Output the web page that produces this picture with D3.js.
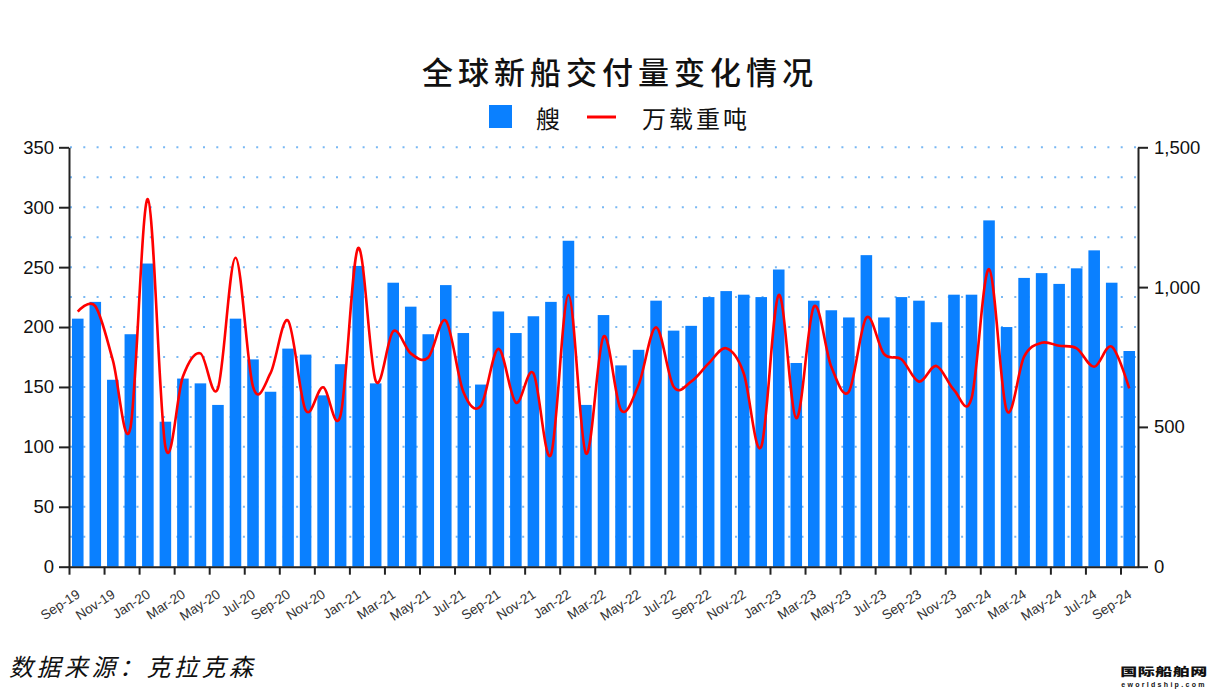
<!DOCTYPE html>
<html>
<head>
<meta charset="utf-8">
<script src="https://cdn.jsdelivr.net/npm/d3@7"></script>
<style>
  html, body { margin: 0; padding: 0; background: #fff; }
  svg { display: block; }
</style>
</head>
<body>
<svg id="chart" width="1212" height="690"></svg>
<script>
// ---------- data ----------
const months = ["Sep-19","Oct-19","Nov-19","Dec-19","Jan-20","Feb-20","Mar-20","Apr-20","May-20","Jun-20","Jul-20","Aug-20",
  "Sep-20","Oct-20","Nov-20","Dec-20","Jan-21","Feb-21","Mar-21","Apr-21","May-21","Jun-21","Jul-21","Aug-21",
  "Sep-21","Oct-21","Nov-21","Dec-21","Jan-22","Feb-22","Mar-22","Apr-22","May-22","Jun-22","Jul-22","Aug-22",
  "Sep-22","Oct-22","Nov-22","Dec-22","Jan-23","Feb-23","Mar-23","Apr-23","May-23","Jun-23","Jul-23","Aug-23",
  "Sep-23","Oct-23","Nov-23","Dec-23","Jan-24","Feb-24","Mar-24","Apr-24","May-24","Jun-24","Jul-24","Aug-24","Sep-24"];
// 艘 (ships) – left axis
const ships = [207,221,156,194,253,121,157,153,135,207,173,146,182,177,143,169,251,153,237,217,
  194,235,195,152,213,195,209,221,272,135,210,168,181,222,197,201,225,230,227,225,248,
  170,222,214,208,260,208,225,222,204,227,227,289,200,241,245,236,249,264,237,180];
// 万载重吨 (10k DWT) – right axis
const dwt = [912,932,739,495,1315,429,680,763,638,1105,644,692,880,560,642,543,1140,665,842,763,
  748,880,626,575,779,587,692,400,972,405,823,560,650,856,644,662,727,781,692,429,972,
  531,930,715,626,891,761,742,662,718,632,602,1064,560,751,801,790,781,715,787,638];
const leftTicks = [0,50,100,150,200,250,300,350];
const gridValues = [25,50,75,100,125,150,175,200,225,250,275,300,325,350];
const rightTicks = [0,500,1000,1500];
const titleText = "全球新船交付量变化情况";
const legendLabels = ["艘", "万载重吨"];
const sourceText = "数据来源：克拉克森";
const watermark = ["国际船舶网", "eworldship.com"];

// ---------- layout ----------
const svg = d3.select("#chart");
const L = 69, R = 1138, T = 147.3, B = 566.7;
const barColor = "#0a80ff", lineColor = "#ff0000";
const numFont = "'Liberation Sans', Arial, sans-serif";
const cjkFont = "'Noto Sans CJK SC', sans-serif";

const xBand = d3.scaleBand().domain(months).range([L, R]).paddingInner(0.34).paddingOuter(0.17);
const xIdx = d3.scaleLinear().domain([0, months.length]).range([L, R]);
const yL = d3.scaleLinear().domain([0, 350]).range([B, T]);
const yR = d3.scaleLinear().domain([0, 1500]).range([B, T]);

// grid
svg.append("g").selectAll("line").data(gridValues).join("line")
  .attr("x1", L + 1).attr("x2", R)
  .attr("y1", d => yL(d)).attr("y2", d => yL(d))
  .attr("stroke", "#79b8f3").attr("stroke-width", 2)
  .attr("stroke-dasharray", "2,11.3");

// bars
svg.append("g").selectAll("rect").data(ships).join("rect")
  .attr("x", (d, i) => xBand(months[i]))
  .attr("width", xBand.bandwidth())
  .attr("y", d => yL(d))
  .attr("height", d => B - yL(d))
  .attr("fill", barColor);

// line
const line = d3.line()
  .x((d, i) => xBand(months[i]) + xBand.bandwidth() / 2)
  .y(d => yR(d))
  .curve(d3.curveCatmullRom.alpha(0));
svg.append("path").datum(dwt)
  .attr("d", line)
  .attr("fill", "none")
  .attr("stroke", lineColor)
  .attr("stroke-width", 2.6)
  .attr("stroke-linejoin", "round");

// axes
const axisColor = "#222";
const gL = svg.append("g").attr("transform", `translate(${L},0)`)
  .call(d3.axisLeft(yL).tickValues(leftTicks).tickSize(10).tickSizeOuter(0).tickPadding(5));
const gR = svg.append("g").attr("transform", `translate(${R},0)`)
  .call(d3.axisRight(yR).tickValues(rightTicks).tickFormat(d3.format(",")).tickSize(10).tickSizeOuter(0).tickPadding(6));
const gB = svg.append("g").attr("transform", `translate(0,${B})`)
  .call(d3.axisBottom(xIdx).tickValues(d3.range(0, months.length, 2)).tickFormat(i => months[i]).tickSize(8).tickSizeOuter(0));

[gL, gR, gB].forEach(g => {
  g.select(".domain").attr("stroke", axisColor).attr("stroke-width", 2);
  g.selectAll(".tick line").attr("stroke", axisColor).attr("stroke-width", 2);
});
[gL, gR].forEach(g => g.selectAll(".tick text")
  .attr("font-family", numFont).attr("font-size", 18.5).attr("fill", "#111"));
gB.selectAll(".tick text")
  .attr("font-family", numFont).attr("font-size", 13.5).attr("fill", "#333")
  .attr("text-anchor", "end")
  .attr("x", 0).attr("y", 0).attr("dy", "0.35em")
  .attr("transform", "translate(9,26) rotate(-33)");

// title
svg.append("text").attr("x", 620).attr("y", 70)
  .attr("text-anchor", "middle").attr("dominant-baseline", "central")
  .attr("font-family", cjkFont).attr("font-size", 31).attr("font-weight", 500).attr("letter-spacing", 5)
  .attr("fill", "#111").text(titleText);

// legend
const lg = svg.append("g");
lg.append("rect").attr("x", 489).attr("y", 105).attr("width", 23).attr("height", 23).attr("fill", barColor);
lg.append("text").attr("x", 536).attr("y", 117).attr("dominant-baseline", "central")
  .attr("font-family", cjkFont).attr("font-size", 24).attr("fill", "#111").text(legendLabels[0]);
lg.append("line").attr("x1", 587).attr("x2", 616).attr("y1", 117).attr("y2", 117)
  .attr("stroke", lineColor).attr("stroke-width", 3);
lg.append("text").attr("x", 642).attr("y", 117).attr("dominant-baseline", "central")
  .attr("font-family", cjkFont).attr("font-size", 24).attr("letter-spacing", 3).attr("fill", "#111").text(legendLabels[1]);

// source
svg.append("text").attr("x", 9).attr("y", 665).attr("dominant-baseline", "central")
  .attr("font-family", cjkFont).attr("font-size", 24).attr("font-style", "italic")
  .attr("letter-spacing", 3.5).attr("fill", "#111").text(sourceText);

// watermark
svg.append("text").attr("x", 0).attr("y", 0).attr("text-anchor", "middle").attr("dominant-baseline", "central")
  .attr("transform", "translate(1164,671) scale(1,0.68)")
  .attr("font-family", cjkFont).attr("font-size", 17).attr("font-weight", 900).attr("fill", "#111")
  .attr("letter-spacing", 0.5).text(watermark[0]);
svg.append("text").attr("x", 1164).attr("y", 684.5).attr("text-anchor", "middle").attr("dominant-baseline", "central")
  .attr("font-family", numFont).attr("font-size", 7).attr("font-weight", 700).attr("fill", "#111")
  .attr("letter-spacing", 2.3).text(watermark[1]);
</script>
</body>
</html>
